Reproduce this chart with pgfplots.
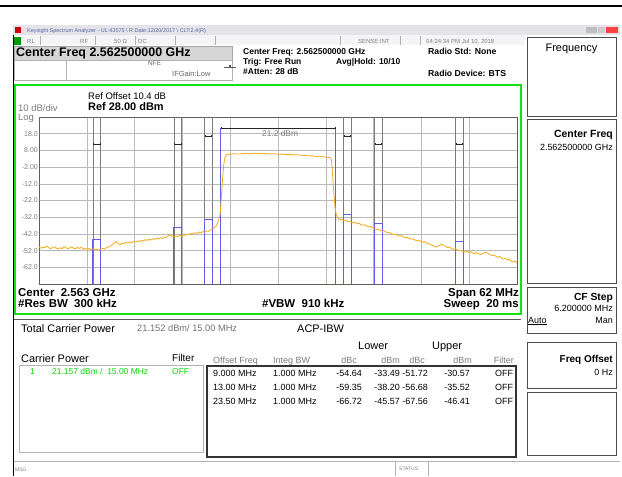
\documentclass[border=0pt]{standalone}
\usepackage{pgfplots}
\pgfplotsset{compat=1.18}
\usepackage{fontspec}
\setmainfont{Liberation Sans}
\definecolor{traceorange}{RGB}{245,170,25}
\definecolor{bandblue}{RGB}{95,95,235}
\definecolor{boxgreen}{RGB}{20,225,20}
\definecolor{gridgray}{RGB}{185,185,185}
\definecolor{edgegray}{RGB}{125,125,125}
\definecolor{framegray}{RGB}{95,95,95}
\definecolor{titleblue}{RGB}{85,100,165}
\definecolor{labelgray}{RGB}{125,125,125}
\definecolor{panelgray}{RGB}{214,214,214}
\newcommand\fs[1]{\fontsize{#1}{#1}\selectfont}
\tikzset{tx/.style={anchor=base west, inner sep=0pt},
         txr/.style={anchor=base east, inner sep=0pt}}

\begin{document}
\begin{tikzpicture}
\begin{scope}[x=1bp,y=-1bp]
  \path[use as bounding box] (0,0) rectangle (622,477);
  \fill[white] (0,0) rectangle (622,477);
  \fill[black] (0,5) rectangle (622,7.5);
  % window
  \fill[white] (13,25) rectangle (620,476);
  \draw[black, line width=1.5bp] (13.5,25) -- (13.5,476);
  \fill[blue!8!gray!20] (13,25) rectangle (620,35.5);
  \fill[red!80!black] (15,27) rectangle (21,33);
  \fill[gray!50] (586,27) rectangle (597,33);
  \fill[gray!40] (598,27) rectangle (605,33);
  \fill[red!75] (606,27) rectangle (618,33);
  % status row
  \fill[gray!8] (14,35.5) rectangle (525,45);
  \foreach \xx in {40,95,135,175,215,340,400,420} \draw[gray!60] (\xx,36) -- (\xx,45);
  \fill[green!60!black] (14,37) rectangle (21,45);
  % center freq box
  \fill[panelgray] (14,46) rectangle (232,60);
  \draw[gray!70] (14,46) rectangle (232,60);
  \draw[gray!60] (14,60) rectangle (66,80);
  \draw[gray!60] (66,60) rectangle (232,80);
  \draw[gray!70!black, line width=0.6bp] (224,67) -- (236,67);
  \fill[gray!70!black] (229,65.5) rectangle (231,68.5);
  % green plot frame
  \draw[boxgreen, line width=2bp] (15,85) rectangle (521,314);
  % divider
  \draw[gray!70!black, line width=1bp] (14,319) -- (521,319);
  % tables
  \draw[gray!60] (19,365) rectangle (203,452);
  \draw[black!80, line width=1.2bp] (207,366) rectangle (516,457);
  % bottom status
  \draw[gray!60] (14,461) -- (620,461);
  \draw[gray!60] (395,461) -- (395,476);
  \draw[gray!60] (428,461) -- (428,476);
  % right panel
  \draw[gray!60!black, line width=1bp] (527,38) rectangle (616,117);
  \draw[gray!60!black, line width=1bp] (527,120) rectangle (616,283);
  \draw[gray!60!black, line width=1bp] (527,287) rectangle (616,333);
  \draw[gray!60!black, line width=1bp] (527,342) rectangle (616,388);
  \draw[gray!60!black, line width=1bp] (527,392) rectangle (616,455);
\end{scope}

\begin{axis}[
  at={(39bp,-284bp)}, anchor=south west,
  width=478bp, height=167bp, scale only axis,
  xmin=-31, xmax=31, ymin=-72, ymax=28,
  xtick={-24.8,-18.6,-12.4,-6.2,0,6.2,12.4,18.6,24.8},
  xticklabels={},
  ytick={-62,-52,-42,-32,-22,-12,-2,8,18},
  yticklabels={-62.0,-52.0,-42.0,-32.0,-22.0,-12.0,-2.00,8.00,18.0},
  yticklabel style={font=\fs{7}, text=labelgray, inner sep=1bp,
    /pgf/number format/assume math mode=true},
  major tick length=0pt,
  grid=major,
  grid style={gridgray, line width=0.6bp},
  axis line style={framegray, line width=0.8bp},
  clip=true,
]
% band edge lines
\addplot[edgegray, line width=0.6bp, forget plot] coordinates {(-24,-72) (-24,28)};
\addplot[edgegray, line width=0.6bp, forget plot] coordinates {(-23,-72) (-23,28)};
\addplot[edgegray, line width=0.6bp, forget plot] coordinates {(-13.5,-72) (-13.5,28)};
\addplot[edgegray, line width=0.6bp, forget plot] coordinates {(-12.5,-72) (-12.5,28)};
\addplot[edgegray, line width=0.6bp, forget plot] coordinates {(-9.5,-72) (-9.5,28)};
\addplot[edgegray, line width=0.6bp, forget plot] coordinates {(-8.5,-72) (-8.5,28)};
\addplot[edgegray, line width=0.6bp, forget plot] coordinates {(8.5,-72) (8.5,28)};
\addplot[edgegray, line width=0.6bp, forget plot] coordinates {(9.5,-72) (9.5,28)};
\addplot[edgegray, line width=0.6bp, forget plot] coordinates {(12.5,-72) (12.5,28)};
\addplot[edgegray, line width=0.6bp, forget plot] coordinates {(13.5,-72) (13.5,28)};
\addplot[edgegray, line width=0.6bp, forget plot] coordinates {(23,-72) (23,28)};
\addplot[edgegray, line width=0.6bp, forget plot] coordinates {(24,-72) (24,28)};
% measured band powers (dBm)
\addplot[bandblue, line width=1bp] coordinates {(-7.5,-72) (-7.5,21.2) (7.5,21.2) (7.5,-72)};
\addplot[bandblue, line width=1bp] coordinates {(-9.5,-72) (-9.5,-33.49) (-8.5,-33.49) (-8.5,-72)};
\addplot[bandblue, line width=1bp] coordinates {(-13.5,-72) (-13.5,-38.20) (-12.5,-38.20) (-12.5,-72)};
\addplot[bandblue, line width=1bp] coordinates {(-24,-72) (-24,-45.57) (-23,-45.57) (-23,-72)};
\addplot[bandblue, line width=1bp] coordinates {(8.5,-72) (8.5,-30.57) (9.5,-30.57) (9.5,-72)};
\addplot[bandblue, line width=1bp] coordinates {(12.5,-72) (12.5,-35.52) (13.5,-35.52) (13.5,-72)};
\addplot[bandblue, line width=1bp] coordinates {(23,-72) (23,-46.41) (24,-46.41) (24,-72)};
% limit markers
\addplot[black!85, line width=0.8bp, mark=|, mark size=1bp] coordinates {(-7.4,21.2) (7.4,21.2)};
\addplot[black!85, line width=0.6bp, mark=|, mark size=1bp] coordinates {(-9.4,16.6) (-8.6,16.6)};
\addplot[black!85, line width=0.6bp, mark=|, mark size=1bp] coordinates {(8.6,16.6) (9.4,16.6)};
\addplot[black!85, line width=0.6bp, mark=|, mark size=1bp] coordinates {(-13.4,11.8) (-12.6,11.8)};
\addplot[black!85, line width=0.6bp, mark=|, mark size=1bp] coordinates {(12.6,11.8) (13.4,11.8)};
\addplot[black!85, line width=0.6bp, mark=|, mark size=1bp] coordinates {(-23.9,11.8) (-23.1,11.8)};
\addplot[black!85, line width=0.6bp, mark=|, mark size=1bp] coordinates {(23.1,11.8) (23.9,11.8)};
% trace
\addplot[traceorange, line width=0.8bp] coordinates {
(-31.00,-49.8) (-30.75,-50.6) (-30.50,-49.9) (-30.25,-50.4) (-30.00,-49.3)
(-29.75,-50.1) (-29.50,-50.9) (-29.25,-50.2) (-29.00,-49.7) (-28.75,-50.5)
(-28.50,-51.1) (-28.25,-50.3) (-28.00,-50.8) (-27.75,-49.6) (-27.50,-50.2)
(-27.25,-50.9) (-27.00,-50.4) (-26.75,-49.8) (-26.50,-50.6) (-26.25,-51.0)
(-26.00,-50.1) (-25.75,-50.7) (-25.50,-50.0) (-25.25,-51.2) (-25.00,-50.6)
(-24.75,-51.3) (-24.50,-50.7) (-24.25,-51.5) (-24.00,-50.9) (-23.75,-51.6)
(-23.50,-51.0) (-23.25,-51.8) (-23.00,-51.2) (-22.75,-50.6) (-22.50,-51.1)
(-22.25,-50.2) (-22.00,-49.9) (-21.75,-49.2) (-21.50,-48.6) (-21.25,-47.3)
(-21.00,-46.6) (-20.75,-47.9) (-20.50,-48.4) (-20.25,-47.6) (-20.00,-48.0)
(-19.75,-47.1) (-19.50,-47.5) (-19.25,-46.8) (-19.00,-47.3) (-18.75,-46.5)
(-18.50,-46.9) (-18.25,-46.2) (-18.00,-46.6) (-17.75,-45.8) (-17.50,-46.3)
(-17.25,-45.5) (-17.00,-45.9) (-16.75,-45.2) (-16.50,-45.7) (-16.25,-44.9)
(-16.00,-45.3) (-15.75,-44.6) (-15.50,-45.0) (-15.25,-44.3) (-15.00,-44.7)
(-14.75,-43.9) (-14.50,-44.2) (-14.25,-43.1) (-14.00,-42.6) (-13.75,-43.4)
(-13.50,-43.8) (-13.25,-43.2) (-13.00,-43.6) (-12.75,-42.9) (-12.50,-43.3)
(-12.25,-42.5) (-12.00,-42.8) (-11.75,-42.0) (-11.50,-42.4) (-11.25,-41.6)
(-11.00,-42.1) (-10.75,-41.3) (-10.50,-41.7) (-10.25,-40.9) (-10.00,-41.4)
(-9.75,-40.6) (-9.50,-41.0) (-9.25,-40.2) (-9.00,-40.5) (-8.75,-39.4)
(-8.50,-39.0) (-8.25,-38.0) (-8.00,-37.2) (-7.75,-34.5) (-7.50,-30.0)
(-7.35,-20) (-7.20,-10) (-7.05,-1) (-6.90,3.5) (-6.70,5.4) (-6.50,5.8)
(-6.25,5.6) (-6.0,5.9) (-5.5,6.0) (-5.0,5.8) (-4.5,6.1) (-4.0,6.2)
(-3.5,6.0) (-3.0,6.3) (-2.5,6.1) (-2.0,6.2) (-1.5,6.0) (-1.0,5.9)
(-0.5,6.0) (0,5.7) (0.5,5.8) (1.0,5.5) (1.5,5.6) (2.0,5.3) (2.5,5.4)
(3.0,5.1) (3.5,5.0) (4.0,4.8) (4.5,4.7) (5.0,4.4) (5.5,4.5) (6.0,4.1)
(6.5,3.9) (6.8,3.6) (6.95,2.0) (7.1,-8) (7.25,-18) (7.4,-26) (7.55,-30.5)
(7.7,-32.0) (7.85,-33.0) (8.00,-33.6) (8.25,-33.1) (8.50,-34.0) (8.75,-33.7)
(9.00,-34.6) (9.25,-34.2) (9.50,-35.0) (9.75,-35.4) (10.00,-35.0)
(10.25,-35.9) (10.50,-35.6) (10.75,-36.4) (11.00,-36.8) (11.25,-36.5)
(11.50,-37.3) (11.75,-37.8) (12.00,-37.6) (12.25,-38.4) (12.50,-38.9)
(12.75,-39.4) (13.00,-39.2) (13.25,-39.9) (13.50,-40.4) (13.75,-40.2)
(14.00,-40.9) (14.25,-41.4) (14.50,-41.2) (14.75,-41.9) (15.00,-42.4)
(15.25,-42.1) (15.50,-42.9) (15.75,-43.3) (16.00,-43.0) (16.25,-43.8)
(16.50,-44.3) (16.75,-44.0) (17.00,-44.7) (17.25,-45.2) (17.50,-44.9)
(17.75,-45.6) (18.00,-46.1) (18.25,-45.7) (18.50,-46.5) (18.75,-47.0)
(19.00,-46.6) (19.25,-47.4) (19.50,-47.9) (19.75,-48.3) (20.00,-48.8)
(20.25,-49.5) (20.50,-49.9) (20.75,-49.3) (21.00,-48.6) (21.25,-48.1)
(21.50,-48.9) (21.75,-49.6) (22.00,-50.2) (22.25,-49.8) (22.50,-50.7)
(22.75,-51.3) (23.00,-50.9) (23.25,-51.6) (23.50,-52.1) (23.75,-51.7)
(24.00,-52.5) (24.25,-52.9) (24.50,-52.3) (24.75,-53.1) (25.00,-52.6)
(25.25,-53.5) (25.50,-53.9) (25.75,-53.2) (26.00,-53.8) (26.25,-54.4)
(26.50,-53.9) (26.75,-53.3) (27.00,-53.0) (27.25,-53.7) (27.50,-54.5)
(27.75,-55.0) (28.00,-54.6) (28.25,-55.4) (28.50,-56.0) (28.75,-55.5)
(29.00,-56.5) (29.25,-57.1) (29.50,-56.6) (29.75,-57.6) (30.00,-57.2)
(30.25,-58.3) (30.50,-58.9) (30.75,-58.2) (31.00,-59.5)
};
\end{axis}

\begin{scope}[x=1bp,y=-1bp]
  % title bar and status row
  \node[tx, font=\fs{5.5}, text=titleblue] at (27,33) {Keysight Spectrum Analyzer - UL:43575 \textbackslash{} R Date:12/20/2017 \textbackslash{} CLT:2.4(R)};
  \node[tx, font=\fs{6}, text=gray] at (27,43.5) {RL};
  \node[tx, font=\fs{6}, text=gray] at (80,43.5) {RF};
  \node[tx, font=\fs{6}, text=gray] at (114,43.5) {50 Ω};
  \node[tx, font=\fs{6}, text=gray] at (138,43.5) {DC};
  \node[tx, font=\fs{6}, text=gray] at (358,43.5) {SENSE:INT};
  \node[tx, font=\fs{6}, text=gray] at (426,43.5) {04:24:34 PM Jul 10, 2018};
  % header
  \node[tx, font=\bfseries\fs{12.5}] at (16,57) {Center Freq 2.562500000 GHz};
  \node[tx, font=\fs{6.5}, text=gray!80!black] at (148,66) {NFE};
  \node[tx, font=\fs{7.5}, text=gray!80!black] at (172,77) {IFGain:Low};
  \node[tx, font=\bfseries\fs{8.5}] at (243,55) {Center Freq: 2.562500000 GHz};
  \node[tx, font=\bfseries\fs{8.5}] at (243,65) {Trig: Free Run};
  \node[tx, font=\bfseries\fs{8.5}] at (336,65) {Avg|Hold: 10/10};
  \node[tx, font=\bfseries\fs{8.5}] at (243,75) {\#Atten: 28 dB};
  \node[tx, font=\bfseries\fs{8.7}] at (428,55) {Radio Std: None};
  \node[tx, font=\bfseries\fs{8.7}] at (428,77) {Radio Device: BTS};
  % plot annotations
  \node[tx, font=\fs{9.5}] at (88,100) {Ref Offset 10.4 dB};
  \node[tx, font=\bfseries\fs{11}] at (88,111) {Ref 28.00 dBm};
  \node[tx, font=\fs{9.5}, text=labelgray] at (18,112) {10 dB/div};
  \node[tx, font=\fs{9.5}, text=labelgray] at (18,121) {Log};
  \node[tx, font=\fs{8.4}, text=labelgray] at (262,137) {21.2 dBm};
  \node[tx, font=\bfseries\fs{11.5}] at (18,296) {Center\ \ 2.563 GHz};
  \node[tx, font=\bfseries\fs{11.5}] at (18,307) {\#Res BW\ \ 300 kHz};
  \node[tx, font=\bfseries\fs{11.5}] at (262,307) {\#VBW\ \ 910 kHz};
  \node[txr, font=\bfseries\fs{11.5}] at (519,296) {Span 62 MHz};
  \node[txr, font=\bfseries\fs{11.5}] at (519,307) {Sweep\ \ 20 ms};
  % result tables
  \node[tx, font=\fs{11}] at (21,332) {Total Carrier Power};
  \node[tx, font=\fs{9.3}, text=gray!90!black] at (137,331) {21.152 dBm/ 15.00 MHz};
  \node[tx, font=\fs{11}] at (297,332) {ACP-IBW};
  \node[tx, font=\fs{11}] at (358,349) {Lower};
  \node[tx, font=\fs{11}] at (432,349) {Upper};
  \node[tx, font=\fs{11}] at (21,362) {Carrier Power};
  \node[tx, font=\fs{10}] at (172,361) {Filter};
  \node[tx, font=\fs{9}, text=labelgray] at (213,363) {Offset Freq};
  \node[tx, font=\fs{9}, text=labelgray] at (273,363) {Integ BW};
  \node[txr, font=\fs{9}, text=labelgray] at (357,363) {dBc};
  \node[txr, font=\fs{9}, text=labelgray] at (400,363) {dBm};
  \node[txr, font=\fs{9}, text=labelgray] at (425,363) {dBc};
  \node[txr, font=\fs{9}, text=labelgray] at (472,363) {dBm};
  \node[txr, font=\fs{9}, text=labelgray] at (514,363) {Filter};
  \node[tx, font=\fs{8.5}, text=green!85!black] at (30,374) {1};
  \node[tx, font=\fs{8.5}, text=green!85!black] at (52,374) {21.157 dBm /\ \ 15.00 MHz};
  \node[tx, font=\fs{8.5}, text=green!85!black] at (172,374) {OFF};
  \foreach \yy/\fa/\la/\lb/\ua/\ub in {376/9.000 MHz/-54.64/-33.49/-51.72/-30.57,
      390/13.00 MHz/-59.35/-38.20/-56.68/-35.52,
      404/23.50 MHz/-66.72/-45.57/-67.56/-46.41}{
    \node[tx, font=\fs{9}] at (213,\yy) {\fa};
    \node[tx, font=\fs{9}] at (273,\yy) {1.000 MHz};
    \node[txr, font=\fs{9}] at (362,\yy) {\la};
    \node[txr, font=\fs{9}] at (400,\yy) {\lb};
    \node[txr, font=\fs{9}] at (428,\yy) {\ua};
    \node[txr, font=\fs{9}] at (470,\yy) {\ub};
    \node[tx, font=\fs{9}] at (495,\yy) {OFF};
  }
  \node[tx, font=\fs{5}, text=gray] at (15,471) {MSG};
  \node[tx, font=\fs{5}, text=gray] at (399,470) {STATUS};
  % right softkey panel
  \node[anchor=base, inner sep=0pt, font=\fs{11}] at (571.5,52) {Frequency};
  \node[txr, font=\bfseries\fs{10.5}] at (613,138) {Center Freq};
  \node[txr, font=\fs{9}] at (613,151) {2.562500000 GHz};
  \node[txr, font=\bfseries\fs{10.3}] at (613,300) {CF Step};
  \node[txr, font=\fs{9}] at (613,311) {6.200000 MHz};
  \node[tx, font=\fs{9}] at (528,323) {\underline{Auto}};
  \node[txr, font=\fs{9}] at (613,323) {Man};
  \node[txr, font=\bfseries\fs{10}] at (613,362) {Freq Offset};
  \node[txr, font=\fs{9}] at (613,375) {0 Hz};
\end{scope}
\end{tikzpicture}
\end{document}
